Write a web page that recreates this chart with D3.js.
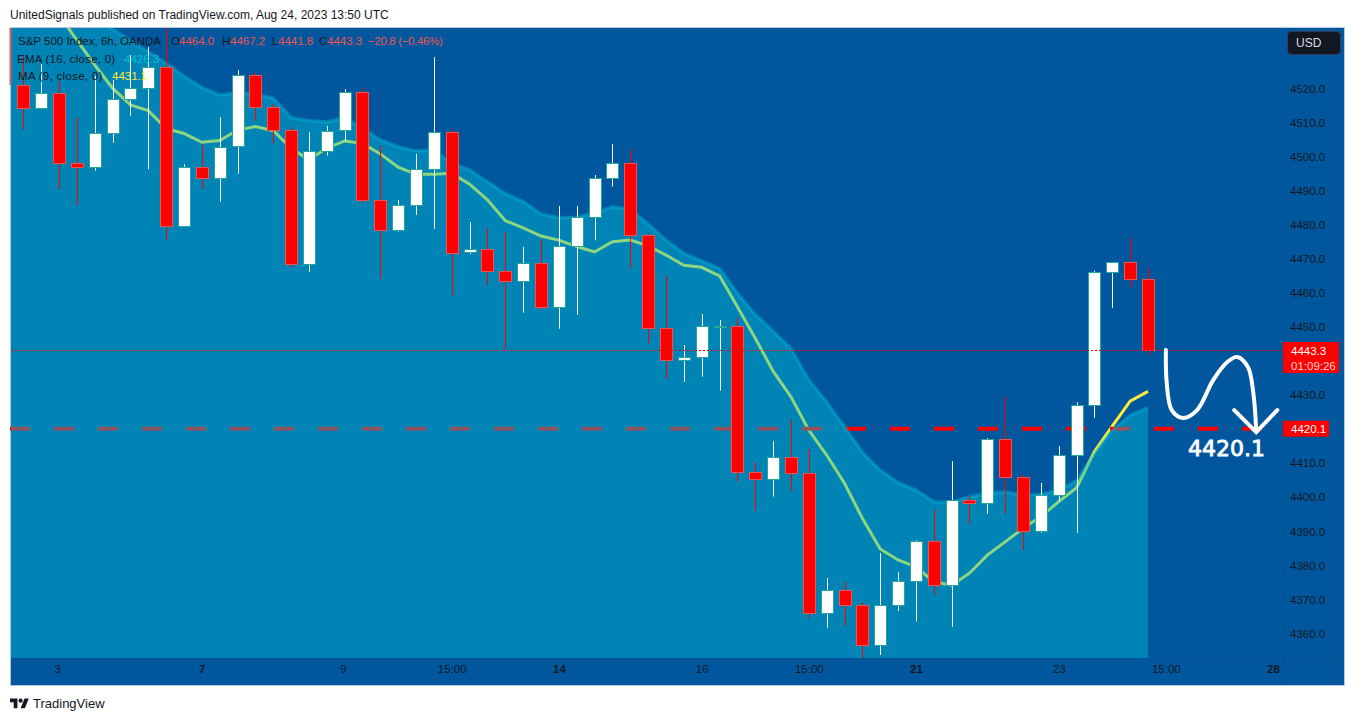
<!DOCTYPE html>
<html>
<head>
<meta charset="utf-8">
<script src="https://cdn.jsdelivr.net/npm/d3@7"></script>
<style>
html, body { margin: 0; padding: 0; background: #fff; overflow: hidden; }
svg { display: block; }
text { font-family: "Liberation Sans", Arial, sans-serif; }
</style>
</head>
<body>
<div id="chart"></div>
<script>
// candles, one entry per 6h bar
var opens = [4520.9,4514.2,4518.6,4498.0,4496.9,4506.8,4516.8,4520.1,4526.2,4479.6,4497.0,4493.6,4503.1,4523.9,4514.5,4507.7,
    4468.5,4501.7,4507.7,4518.9,4487.2,4478.4,4485.7,4496.3,4507.1,4471.9,4472.8,4466.3,4463.4,4468.7,4455.8,4473.7,
    4482.2,4493.6,4498.0,4476.9,4449.6,4440.2,4441.3,4450.3,4450.3,4407.3,4405.4,4411.7,4407.2,4365.9,4372.7,4368.3,
    4356.5,4368.3,4375.3,4387.1,4374.1,4399.1,4398.4,4417.0,4406.0,4390.2,4400.7,4412.3,4427.0,4466.0,4469.0,4464.0];
var highs = [4529.8,4527.2,4522.1,4511.5,4523.7,4522.5,4529.8,4532.2,4537.8,4497.8,4503.4,4511.6,4525.4,4524.8,4515.5,4508.6,
    4507.2,4509.0,4519.8,4520.3,4503.1,4487.3,4500.8,4529.2,4508.0,4480.8,4479.0,4477.9,4473.5,4475.7,4485.5,4485.5,
    4494.6,4503.7,4502.3,4477.5,4465.1,4444.7,4453.8,4452.0,4452.7,4410.3,4416.5,4422.9,4414.1,4376.3,4375.1,4369.2,
    4383.6,4378.0,4387.4,4396.2,4410.6,4400.4,4417.4,4429.4,4406.8,4404.2,4415.0,4427.9,4466.5,4469.0,4476.2,4467.2];
var lows = [4508.0,4514.2,4490.4,4485.7,4495.9,4504.1,4512.0,4496.3,4475.7,4479.6,4490.4,4486.8,4495.0,4510.5,4503.9,4467.4,
    4466.2,4500.3,4504.6,4486.2,4464.0,4478.0,4482.9,4478.8,4459.2,4471.4,4462.3,4443.4,4454.2,4455.0,4449.5,4453.6,
    4475.5,4491.2,4467.1,4445.2,4434.8,4433.9,4435.4,4431.3,4404.6,4395.9,4400.2,4401.8,4364.6,4361.7,4362.3,4352.7,
    4353.7,4366.6,4363.6,4371.3,4362.0,4392.3,4395.1,4395.2,4384.5,4389.6,4398.9,4389.6,4423.3,4455.6,4461.8,4441.8];
var closes = [4514.2,4518.6,4498.0,4496.9,4506.8,4516.8,4520.1,4526.2,4479.6,4497.0,4493.6,4502.9,4523.9,4514.5,4507.7,4468.5,
    4501.7,4507.6,4518.9,4487.2,4478.4,4485.7,4496.3,4507.1,4471.8,4472.8,4466.3,4463.4,4468.7,4455.8,4473.7,4482.2,
    4493.6,4498.0,4476.9,4449.6,4440.2,4441.3,4450.2,4450.3,4407.3,4405.4,4411.7,4407.2,4365.9,4372.7,4368.3,4356.5,
    4368.3,4375.3,4387.1,4374.1,4399.1,4398.4,4417.0,4406.0,4390.2,4400.7,4412.3,4427.0,4466.0,4469.0,4464.0,4443.3];

// EMA starts one bar before the first candle, off the left edge
var emaFirstBar = -1;
var emaValues = [4554.8,4551.8,4548.9,4546.0,4543.0,4540.7,4537.5,4534.0,4530.8,4527.4,4523.7,4520.3,4518.1,4518.8,4518.3,4517.2,4511.5,
    4510.6,4510.2,4511.5,4508.3,4504.9,4502.9,4501.7,4501.9,4498.0,4496.1,4492.6,4489.2,4486.8,4483.2,4482.1,4482.2,
    4483.4,4485.3,4484.6,4480.2,4475.5,4471.6,4469.4,4467.2,4459.9,4453.7,4448.8,4443.7,4434.4,4428.0,4420.7,4413.2,
    4408.0,4404.3,4402.1,4398.7,4398.4,4400.2,4401.1,4401.6,4400.6,4400.9,4402.1,4404.8,4412.9,4419.7,4424.1,4426.3];
var maFirstBar = 2;
var maValues = [4541.6,4534.2,4526.9,4520.1,4515.2,4513.5,4508.3,4506.8,4504.2,4504.7,4507.8,4508.8,4507.6,4502.5,4499.0,
    4502.5,4504.6,4503.9,4500.8,4496.9,4494.8,4494.8,4495.1,4491.9,4487.3,4481.2,4479.1,4476.7,4475.5,4473.6,4472.0,
    4475.0,4475.5,4473.8,4471.1,4468.1,4467.5,4465.0,4455.9,4446.7,4437.0,4429.5,4419.7,4412.4,4404.1,4393.8,4384.8,
    4381.6,4379.6,4375.2,4374.2,4377.7,4383.0,4386.9,4390.9,4394.3,4398.7,4402.8,4413.4,4420.9,4428.2,4431.1];

// 4420 and 4440 are hidden behind the price tags in the picture
var priceTicks = [4360,4370,4380,4390,4400,4410,4430,4450,4460,4470,4480,4490,4500,4510,4520];
var timeTickBars = [1.9,10,17.9,24,30,38,44,50,58,64,70];
var timeTickLabels = ["3","7","9","15:00","14","16","15:00","21","23","15:00","28"];
var boldTimeLabels = ["7","14","21","28"];

var lastPrice = 4443.3;
var targetPrice = 4420.1;
var countdown = "01:09:26";

// hand drawn arrow, as bar position and price
var arrowBars = [64.0,64.05,64.33,64.97,65.75,66.65,67.44,68.0,68.6,68.9,69.06];
var arrowPrices = [4443.2,4433.5,4425.6,4423.3,4425.6,4434.4,4439.7,4441.2,4438.2,4430.6,4419.7];
var headBars = [67.83,69.06,70.24];
var headPrices = [4425.6,4419.1,4425.6];

var width = 1355, height = 721;
var plot = {left: 11, right: 1283, top: 28, bottom: 658};

var bars = closes.map(function(c, i) {
    return {i: i, o: opens[i], h: highs[i], l: lows[i], c: c};
});

var x = d3.scaleLinear().domain([0, 63]).range([23.3, 1148]);
var y = d3.scaleLinear().domain([4520, 4360]).range([88.5, 633.5]);

function crisp(v) { return Math.round(v) + 0.5; }

var svg = d3.select("#chart").append("svg").attr("width", width).attr("height", height);

svg.append("defs").append("clipPath").attr("id", "plot-clip").append("rect")
    .attr("x", plot.left).attr("y", plot.top)
    .attr("width", plot.right - plot.left).attr("height", plot.bottom - plot.top);

svg.append("text").attr("x", 10).attr("y", 19)
    .attr("font-size", 12).attr("fill", "#131722")
    .text("UnitedSignals published on TradingView.com, Aug 24, 2023 13:50 UTC");

svg.append("rect").attr("x", 10.5).attr("y", 27.5).attr("width", 1334).attr("height", 658)
    .attr("fill", "#00579d").attr("stroke", "#b5c9dc");

svg.append("line").attr("x1", 10.5).attr("x2", 10.5).attr("y1", 28).attr("y2", 85)
    .attr("stroke", "#ef5350").attr("stroke-width", 2);

// MA and the dashed level sit under the translucent EMA area
var under = svg.append("g");

var maLine = d3.line()
    .x(function(d, i) { return x(i + maFirstBar); })
    .y(function(d) { return y(d); });

under.append("path").datum(maValues).attr("d", maLine)
    .attr("clip-path", "url(#plot-clip)")
    .attr("fill", "none").attr("stroke", "#ffeb3b").attr("stroke-width", 3);

under.append("line")
    .attr("x1", 10).attr("x2", plot.right)
    .attr("y1", y(targetPrice)).attr("y2", y(targetPrice))
    .attr("stroke", "#ff0000").attr("stroke-width", 4).attr("stroke-dasharray", "20,24");

var chart = svg.append("g").attr("clip-path", "url(#plot-clip)");

var emaArea = d3.area()
    .x(function(d, i) { return x(i + emaFirstBar); })
    .y0(plot.bottom)
    .y1(function(d) { return y(d); });
var emaLine = d3.line()
    .x(function(d, i) { return x(i + emaFirstBar); })
    .y(function(d) { return y(d); });

chart.append("path").datum(emaValues).attr("d", emaArea)
    .attr("fill", "#00bcd4").attr("fill-opacity", 0.45);
chart.append("path").datum(emaValues).attr("d", emaLine)
    .attr("fill", "none").attr("stroke", "#00bcd4").attr("stroke-opacity", 0.4).attr("stroke-width", 3.5);

function isUp(d) { return d.c >= d.o; }

chart.selectAll("line.wick").data(bars).enter()
    .append("line")
    .attr("class", "wick")
    .attr("x1", function(d) { return crisp(x(d.i)); })
    .attr("x2", function(d) { return crisp(x(d.i)); })
    .attr("y1", function(d) { return y(d.h); })
    .attr("y2", function(d) { return y(d.l); })
    .attr("stroke", function(d) { return isUp(d) ? "#ffffff" : "#ff0000"; });

chart.selectAll("rect.body").data(bars).enter()
    .append("rect")
    .attr("class", "body")
    .attr("x", function(d) { return crisp(x(d.i)) - 6; })
    .attr("width", 12)
    .attr("y", function(d) { return crisp(y(Math.max(d.o, d.c))); })
    .attr("height", function(d) { return Math.max(1, crisp(y(Math.min(d.o, d.c))) - crisp(y(Math.max(d.o, d.c)))); })
    .attr("fill", function(d) {
        if (d.c === d.o) return "#26a69a";
        return isUp(d) ? "#ffffff" : "#ff0000";
    })
    .attr("stroke", function(d) { return isUp(d) ? "#26a69a" : "#ef5350"; });

// last price dotted line goes over the candles
svg.append("line")
    .attr("x1", plot.left).attr("x2", plot.right)
    .attr("y1", crisp(y(lastPrice))).attr("y2", crisp(y(lastPrice)))
    .attr("stroke", "#ff0000").attr("stroke-dasharray", "2,2");

var arrowLine = d3.line().curve(d3.curveCatmullRom)
    .x(function(d) { return x(d[0]); })
    .y(function(d) { return y(d[1]); });

svg.append("path").datum(d3.zip(arrowBars, arrowPrices)).attr("d", arrowLine)
    .attr("fill", "none").attr("stroke", "#ffffff").attr("stroke-width", 4).attr("stroke-linecap", "round");
svg.append("path").datum(d3.zip(headBars, headPrices))
    .attr("d", d3.line().x(function(d) { return x(d[0]); }).y(function(d) { return y(d[1]); }))
    .attr("fill", "none").attr("stroke", "#ffffff").attr("stroke-width", 4).attr("stroke-linecap", "round");

svg.append("text").attr("x", 1188).attr("y", 456)
    .attr("font-size", 22).attr("fill", "#ffffff").attr("stroke", "#ffffff").attr("stroke-width", 0.8)
    .style("font-family", "'DejaVu Sans'")
    .text(d3.format(".1f")(targetPrice));

// axes
svg.append("line").attr("x1", 11).attr("x2", 1344).attr("y1", 658.5).attr("y2", 658.5).attr("stroke", "#004f8f");
svg.append("line").attr("x1", 1283.5).attr("x2", 1283.5).attr("y1", 58).attr("y2", 685).attr("stroke", "#004f8f");

var priceAxis = d3.axisRight(y).tickValues(priceTicks).tickFormat(d3.format(".1f")).tickSize(0).tickPadding(7);
var priceG = svg.append("g").attr("transform", "translate(" + plot.right + ",0)").call(priceAxis);
priceG.select(".domain").remove();
priceG.selectAll("text").attr("font-family", "Liberation Sans").attr("font-size", 11.5).attr("fill", "#131722");

var timeAxis = d3.axisBottom(x).tickValues(timeTickBars)
    .tickFormat(function(d, i) { return timeTickLabels[i]; }).tickSize(0).tickPadding(7);
var timeG = svg.append("g").attr("transform", "translate(0," + plot.bottom + ")").call(timeAxis);
timeG.select(".domain").remove();
timeG.selectAll("text").attr("font-family", "Liberation Sans").attr("font-size", 11.5).attr("fill", "#131722")
    .attr("font-weight", function(d, i) { return boldTimeLabels.indexOf(timeTickLabels[i]) !== -1 ? "bold" : "normal"; });

// price tags on the axis
svg.append("rect").attr("x", 1283).attr("y", crisp(y(lastPrice)) - 8.5).attr("width", 56).attr("height", 31).attr("fill", "#ff0000");
svg.append("text").attr("x", 1291).attr("y", crisp(y(lastPrice)) + 4)
    .attr("font-size", 11.5).attr("fill", "#ffffff").text(d3.format(".1f")(lastPrice));
svg.append("text").attr("x", 1291).attr("y", crisp(y(lastPrice)) + 19)
    .attr("font-size", 11.5).attr("fill", "#ffd4d4").text(countdown);
svg.append("rect").attr("x", 1283).attr("y", y(targetPrice) - 8).attr("width", 46).attr("height", 16).attr("fill", "#ff0000");
svg.append("text").attr("x", 1291).attr("y", y(targetPrice) + 4)
    .attr("font-size", 11.5).attr("fill", "#ffffff").text(d3.format(".1f")(targetPrice));

// USD button
svg.append("rect").attr("x", 1287.5).attr("y", 31.5).attr("width", 53).attr("height", 23).attr("rx", 4)
    .attr("fill", "#131722").attr("stroke", "#2a3d5c");
svg.append("text").attr("x", 1296).attr("y", 47).attr("font-size", 12).attr("fill", "#d8dce6").text("USD");

// legend
var legendItems = [
    {t: "S&P 500 Index, 6h, OANDA", x: 18, y: 45, c: "#131722"},
    {t: "O", x: 171, y: 45, c: "#131722"}, {t: d3.format(".1f")(opens[63]), x: 179, y: 45, c: "#ef5350"},
    {t: "H", x: 222, y: 45, c: "#131722"}, {t: d3.format(".1f")(highs[63]), x: 230, y: 45, c: "#ef5350"},
    {t: "L", x: 272, y: 45, c: "#131722"}, {t: d3.format(".1f")(lows[63]), x: 278, y: 45, c: "#ef5350"},
    {t: "C", x: 319, y: 45, c: "#131722"}, {t: d3.format(".1f")(closes[63]), x: 327, y: 45, c: "#ef5350"},
    {t: "\u221220.8 (\u22120.46%)", x: 368, y: 45, c: "#ef5350", ls: -0.35},
    {t: "EMA (16, close, 0)", x: 17, y: 63, c: "#131722", ls: 0.25}, {t: d3.format(".1f")(emaValues[emaValues.length - 1]), x: 124, y: 63, c: "#00bcd4"},
    {t: "MA (9, close, 0)", x: 18, y: 80, c: "#131722", ls: 0.3}, {t: d3.format(".1f")(maValues[maValues.length - 1]), x: 112, y: 80, c: "#ffeb3b"}
];
svg.selectAll("text.legend").data(legendItems).enter()
    .append("text")
    .attr("class", "legend")
    .attr("x", function(d) { return d.x; })
    .attr("y", function(d) { return d.y; })
    .attr("font-size", 11.5)
    .attr("letter-spacing", function(d) { return d.ls || 0; })
    .attr("fill", function(d) { return d.c; })
    .text(function(d) { return d.t; });

// footer logo
svg.append("g").attr("transform", "translate(10,696.5) scale(0.53)").append("path")
    .attr("fill", "#131722")
    .attr("d", "M14 22H7V11H0V4h14v18zM28 22h-8l7.5-18h8L28 22zM24 8a4 4 0 1 1-8 0 4 4 0 0 1 8 0z");
svg.append("text").attr("x", 33).attr("y", 708).attr("font-size", 13).attr("fill", "#131722").text("TradingView");
</script>
</body>
</html>
